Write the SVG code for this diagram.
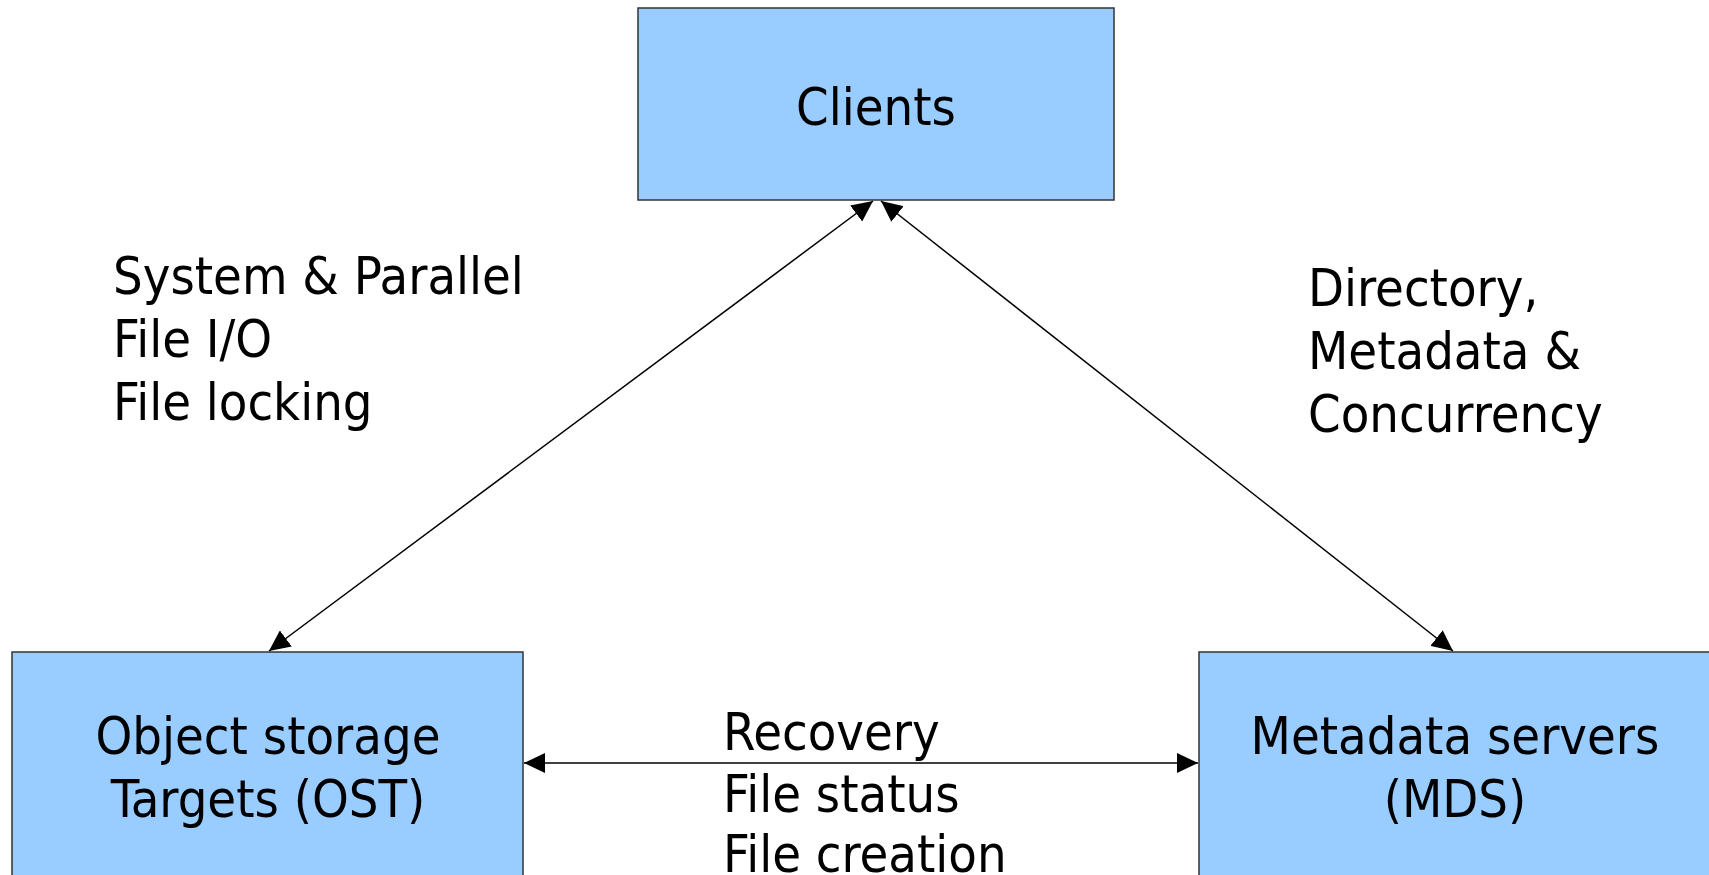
<svg xmlns="http://www.w3.org/2000/svg" width="1709" height="875" viewBox="0 0 1709 875">
  <style>
    .box { fill: #99CCFF; stroke: #333333; stroke-width: 1.5; }
    .lbl { font-family: "DejaVu Sans Condensed", "DejaVu Sans", sans-serif; font-stretch: condensed; font-size: 52px; fill: #000000; }
    .mid { text-anchor: middle; }
    .link { stroke: #000000; stroke-width: 1.5; fill: none; marker-start: url(#head); marker-end: url(#head); }
  </style>
  <defs>
    <marker id="head" markerUnits="userSpaceOnUse" markerWidth="22" markerHeight="20" refX="21" refY="10" orient="auto-start-reverse">
      <path d="M0,0 L21,10 L0,20 Z" fill="#000000"/>
    </marker>
  </defs>
  <rect width="1709" height="875" fill="#ffffff"/>

  <g id="clients">
    <rect class="box" x="638" y="8" width="476" height="192"/>
    <text class="lbl mid" x="876" y="125">Clients</text>
  </g>

  <g id="ost">
    <rect class="box" x="12" y="652" width="511" height="240"/>
    <text class="lbl mid" x="268" y="754">Object storage</text>
    <text class="lbl mid" x="268" y="817">Targets (OST)</text>
  </g>

  <g id="mds">
    <rect class="box" x="1199" y="652" width="513" height="240"/>
    <text class="lbl mid" x="1455" y="754">Metadata servers</text>
    <text class="lbl mid" x="1455" y="817">(MDS)</text>
  </g>

  <g id="connectors">
    <line class="link" x1="873" y1="201" x2="269" y2="651"/>
    <line class="link" x1="881" y1="201" x2="1453" y2="651"/>
    <line class="link" x1="524" y1="763" x2="1198" y2="763"/>
  </g>

  <g id="labels">
    <text class="lbl" x="113" y="294">System &amp; Parallel</text>
    <text class="lbl" x="113" y="357">File I/O</text>
    <text class="lbl" x="113" y="420">File locking</text>
    <text class="lbl" x="1308" y="306">Directory,</text>
    <text class="lbl" x="1308" y="369">Metadata &amp;</text>
    <text class="lbl" x="1308" y="432">Concurrency</text>
    <text class="lbl" x="723" y="750">Recovery</text>
    <text class="lbl" x="723" y="812">File status</text>
    <text class="lbl" x="723" y="872">File creation</text>
  </g>
</svg>
